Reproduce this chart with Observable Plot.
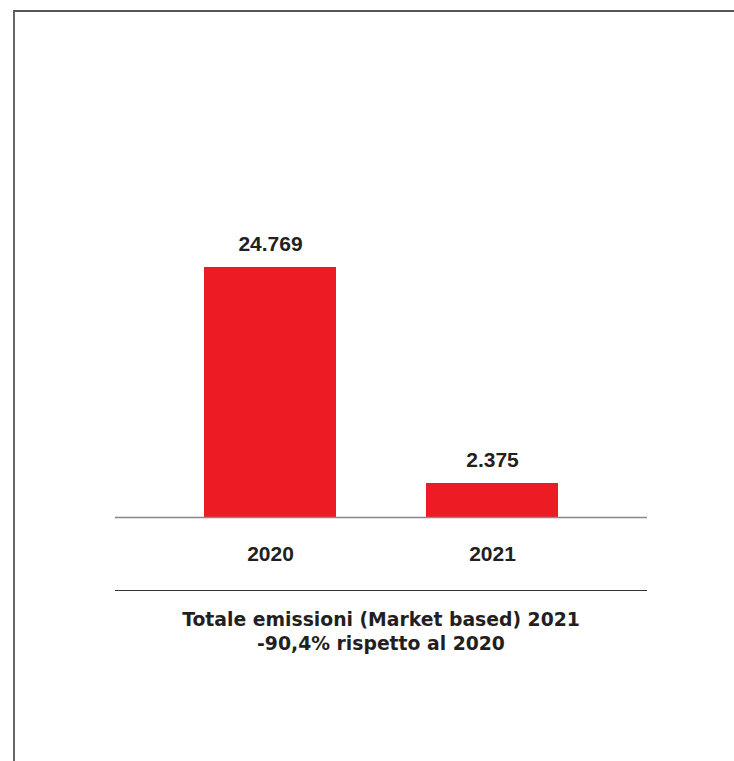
<!DOCTYPE html>
<html>
<head>
<meta charset="utf-8">
<script src="https://cdn.jsdelivr.net/npm/d3@7"></script>
<script src="https://cdn.jsdelivr.net/npm/@observablehq/plot@0.6"></script>
<style>
  html, body { margin: 0; padding: 0; background: #fff; }
  #frame { position: relative; width: 734px; height: 761px; overflow: hidden; font-family: "DejaVu Sans", sans-serif; }
  #border { position: absolute; left: 13px; top: 10px; right: -5px; bottom: -5px; border-top: 2px solid #555; border-left: 2px solid #666; }
  #chart { position: absolute; left: 0; top: 0; }
  #sep { position: absolute; left: 115px; width: 532px; top: 589.5px; height: 0; border-top: 1.5px solid #333; }
  #caption { position: absolute; left: 100px; width: 562px; top: 608px; text-align: center; font-weight: bold; font-size: 18.8px; line-height: 24px; color: #231f20; }
</style>
</head>
<body>
<div id="frame">
  <div id="border"></div>
  <div id="chart"></div>
  <div id="sep"></div>
  <div id="caption"></div>
</div>
<script>
const years = ["2020", "2021"];
const emissions = [24769, 2375];
// the original infographic's value axis does not start at zero
const axisStart = -1150;
const captionLines = ["Totale emissioni (Market based) 2021", "-90,4% rispetto al 2020"];

const it = d3.formatLocale({decimal: ",", thousands: ".", grouping: [3], currency: ["", "€"]});
const fmt = it.format(",d");
const data = years.map((y, i) => ({year: y, value: emissions[i]}));

const chart = Plot.plot({
  width: 734,
  height: 580,
  marginLeft: 115,
  marginRight: 87,
  marginTop: 20,
  marginBottom: 63,
  style: {fontFamily: "Liberation Sans, Arial, sans-serif", background: "transparent"},
  x: {domain: years, paddingInner: 0.405, paddingOuter: 0.4, label: null},
  y: {domain: [axisStart, d3.max(emissions)], range: [517, 267], axis: null},
  marks: [
    Plot.barY(data, {x: "year", y1: axisStart, y2: "value", fill: "#ed1c24"}),
    Plot.ruleY([axisStart], {stroke: "#888", strokeWidth: 1.5}),
    Plot.text(data, {x: "year", y: "value", text: d => fmt(d.value), dy: -23, fontSize: 21, fontWeight: "bold", fill: "#231f20"}),
    Plot.axisX({tickSize: 0, tickPadding: 29, fontSize: 21, fontWeight: "bold", color: "#231f20", label: null})
  ]
});
document.getElementById("chart").appendChild(chart);
document.getElementById("caption").innerHTML = captionLines.join("<br>");
</script>
</body>
</html>
